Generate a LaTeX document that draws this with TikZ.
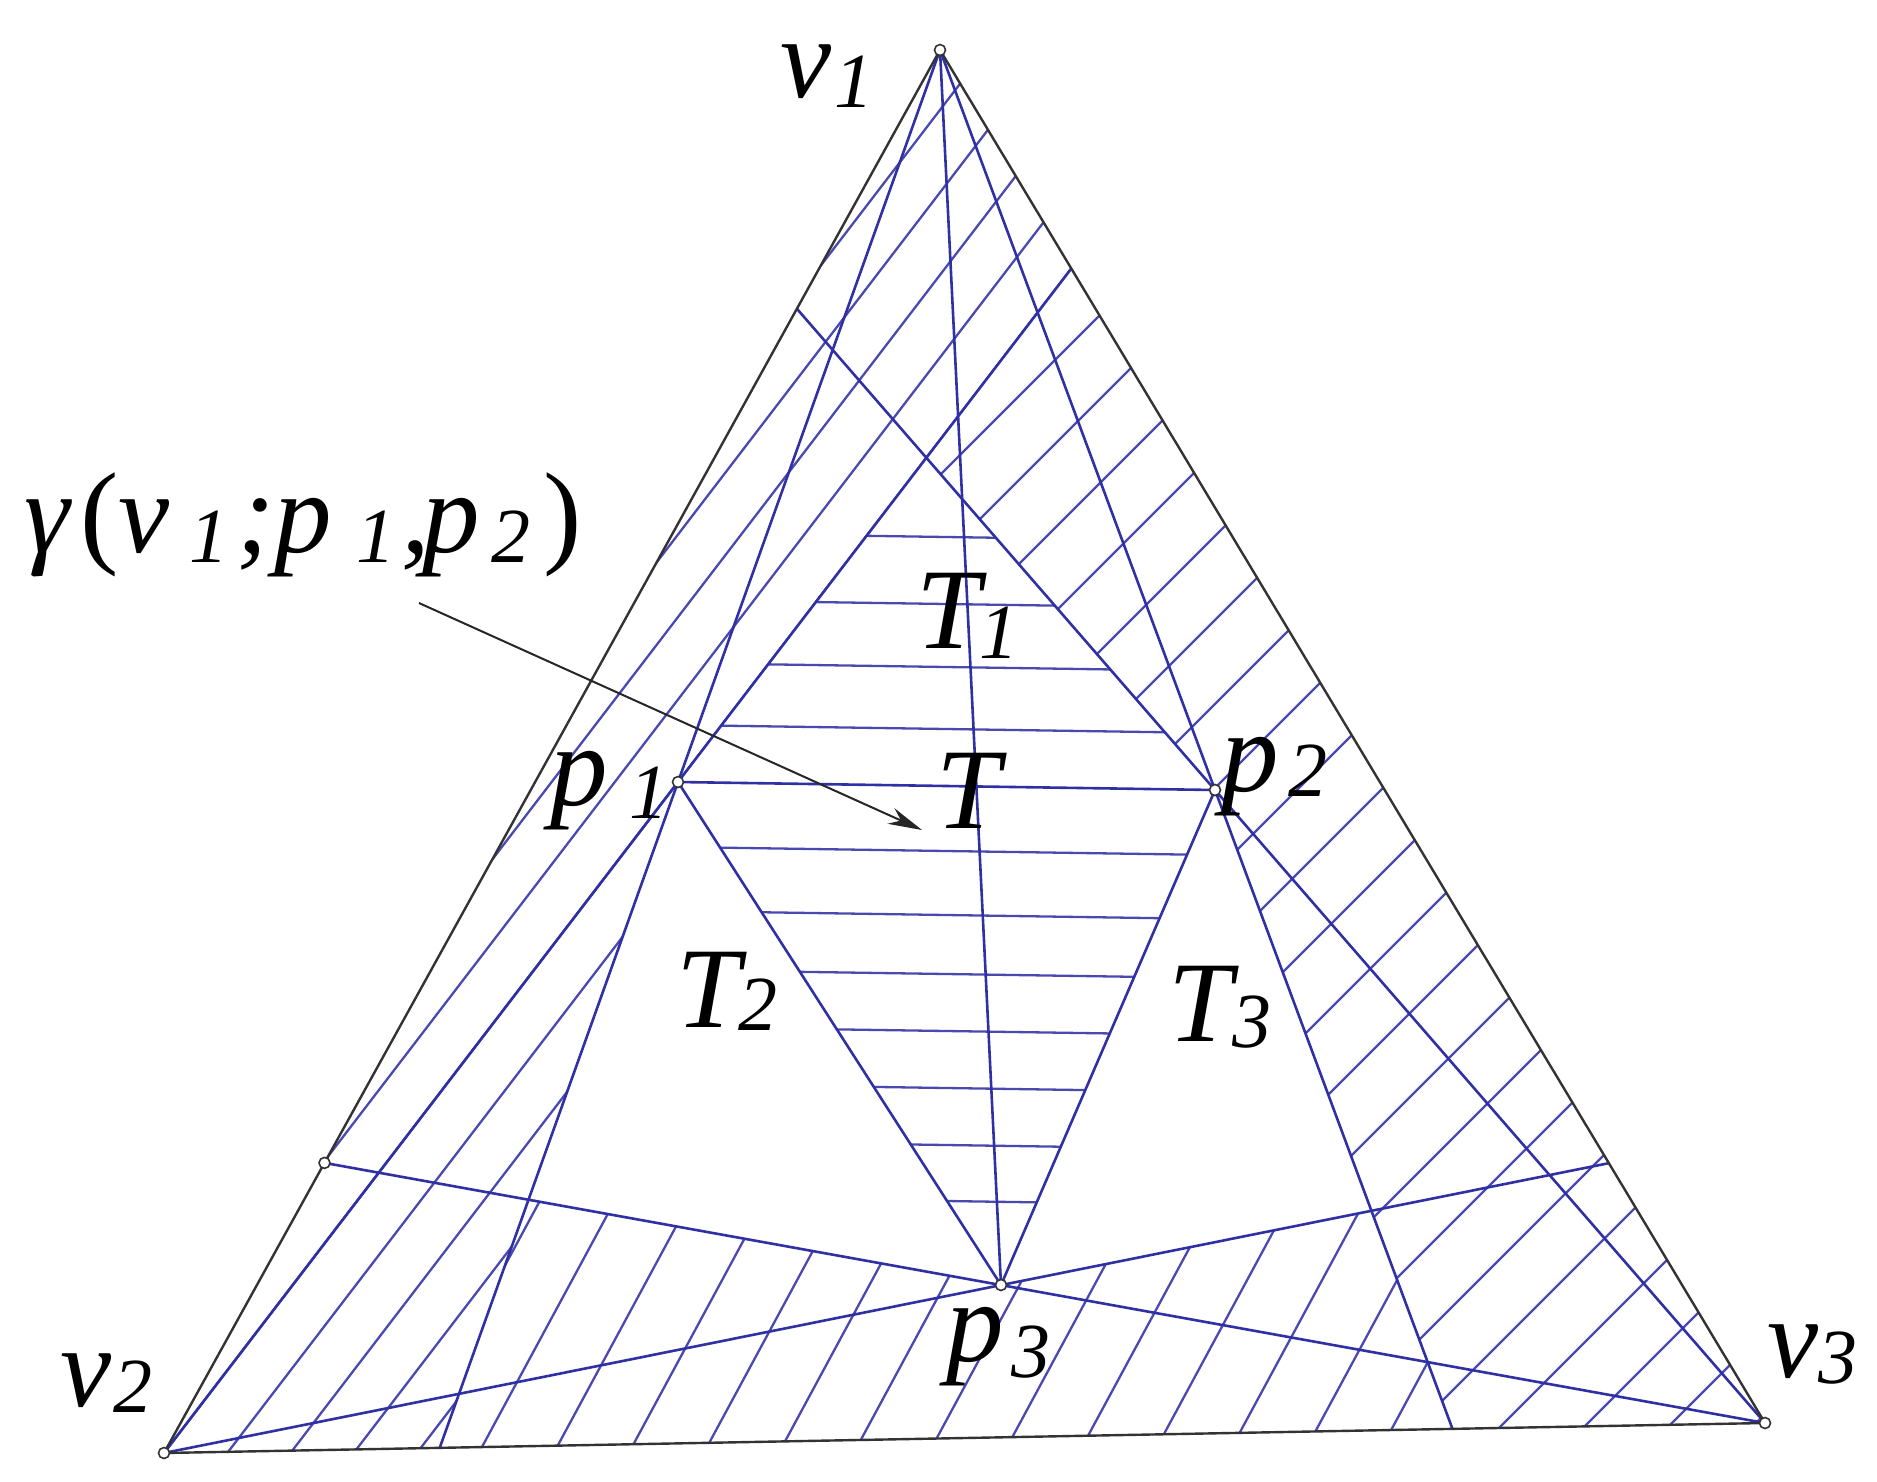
\documentclass[tikz,border=0pt]{standalone}
\usepackage{fontspec}
\setmainfont{Liberation Serif}
\usetikzlibrary{arrows.meta}
\definecolor{hb}{RGB}{48,48,165}
\newcommand\subf{\fontsize{78}{80}\selectfont}
\begin{document}
\begin{tikzpicture}[x=1pt,y=-1pt,
  cline/.style={draw=hb, line width=2.6pt},
  hatchline/.style={draw=hb!88, line width=2.3pt},
  edgeline/.style={draw=black!80, line width=2.4pt},
  vdot/.style={circle, draw=black!80, fill=white, line width=1.6pt, inner sep=0pt, minimum size=11pt},
  lab/.style={anchor=base west, inner sep=0pt, font=\fontsize{115}{120}\selectfont\itshape}]
\useasboundingbox (0,0) rectangle (1877,1481);
% main points
\coordinate (v1) at (940,50);
\coordinate (v2) at (164,1453);
\coordinate (v3) at (1765,1423);
\coordinate (p1) at (678,782);
\coordinate (p2) at (1215,790);
\coordinate (p3) at (1001,1285);
% derived points
\coordinate (E1) at (intersection of v2--p1 and v1--v3);
\coordinate (E3) at (intersection of v3--p2 and v1--v2);
\coordinate (X)  at (intersection of v2--p1 and v3--p2);
\coordinate (B1) at (intersection of v1--p1 and v2--v3);
\coordinate (B3) at (intersection of v1--p2 and v2--v3);
\coordinate (q)  at (intersection of v3--p3 and v1--v2);
\coordinate (E6) at (intersection of v2--p3 and v1--v3);
\coordinate (A2) at (intersection of v1--p1 and q--p3);
\coordinate (A3) at (intersection of v1--p2 and v2--p3);
% hatching family A (left band and top)
\begin{scope}
  \clip (v1) -- (E1) -- (X) -- (p1) -- (B1) -- (v2) -- cycle;
  \foreach \k in {-21,...,28} {
    \pgfmathsetmacro\c{142.6+63.2*\k}
    \draw[hatchline] (\c,1481) -- ({\c+1134.4},0);
  }
\end{scope}
% hatching family B (right band)
\begin{scope}
  \clip (E1) -- (X) -- (p2) -- (B3) -- (v3) -- cycle;
  \foreach \k in {-17,...,6} {
    \pgfmathsetmacro\c{1278+84*\k}
    \draw[hatchline] (\c,1481) -- ({\c+1481},0);
  }
\end{scope}
% hatching family C (bottom)
\begin{scope}
  \clip (B1) -- (A2) -- (p3) -- (A3) -- (B3) -- cycle;
  \foreach \k in {-2,...,14} {
    \pgfmathsetmacro\c{463.6+75*\k}
    \draw[hatchline] (\c,1481) -- ({\c+799.7},0);
  }
\end{scope}
% horizontal hatching of T
\begin{scope}
  \clip (p1) -- (X) -- (p2) -- (p3) -- cycle;
  \foreach \yy in {533,600,663,725,847,911,970,1027,1084,1141,1197} {
    \draw[hatchline] (600,{\yy-1.16}) -- (1300,{\yy+9.27});
  }
\end{scope}
% construction lines
\draw[cline] (v1) -- (B1);
\draw[cline] (v1) -- (p3);
\draw[cline] (v1) -- (B3);
\draw[cline] (v2) -- (E1);
\draw[cline] (v3) -- (E3);
\draw[cline] (v2) -- (E6);
\draw[cline] (v3) -- (q);
\draw[cline] (p1) -- (p3);
\draw[cline] (p2) -- (p3);
\draw[cline] (p1) -- (p2);
% triangle
\draw[edgeline] (v1) -- (v2) -- (v3) -- cycle;
% arrow
\coordinate (as) at (419,603);
\coordinate (ae) at (922,830);
\draw[black!85, line width=2pt, -{Stealth[length=34pt,width=17pt]}] (as) -- (ae);
% dots
\node[vdot] (d1) at (v1) {};
\node[vdot] (d2) at (v2) {};
\node[vdot] (d3) at (v3) {};
\node[vdot] (dp1) at (p1) {};
\node[vdot] (dp2) at (p2) {};
\node[vdot] (dp3) at (p3) {};
\node[vdot] (dq) at (q) {};
% labels
\node[lab] (lv1) at (780,97) {v\kern3pt\raisebox{-10pt}{\subf 1}};
\node[lab] (lv2) at (60,1406) {v\kern2pt\raisebox{-6pt}{\subf 2}};
\node[lab] (lv3) at (1767,1377) {v\raisebox{-6pt}{\subf 3}};
\node[lab] (lp1) at (550,805) {p\kern22pt\raisebox{-13pt}{\subf 1}};
\node[lab] (lp2) at (1221,791) {p\kern10pt\raisebox{-5pt}{\subf 2}};
\node[lab] (lp3) at (946,1361) {p\kern8pt\raisebox{-16pt}{\subf 3}};
\node[lab] (lT) at (936,828) {T};
\node[lab] (lT1) at (916,648) {T\kern-1pt\raisebox{-10pt}{\subf 1}};
\node[lab] (lT2) at (676,1027) {T\kern-2pt\raisebox{-3pt}{\subf 2}};
\node[lab] (lT3) at (1168,1041) {T\kern0pt\raisebox{-6pt}{\subf 3}};
\node[lab] (lg) at (24,552) {\makebox[56pt][l]{γ}\makebox[38pt][l]{\upshape(}\makebox[71pt][l]{v}\makebox[47pt][l]{\raisebox{-10pt}{\subf 1}}\makebox[38pt][l]{;}\makebox[82pt][l]{p}\makebox[45pt][l]{\raisebox{-10pt}{\subf 1}}\makebox[21pt][l]{,}\makebox[69pt][l]{p}\makebox[52pt][l]{\raisebox{-10pt}{\subf 2}}{\upshape)}};
\end{tikzpicture}
\end{document}
